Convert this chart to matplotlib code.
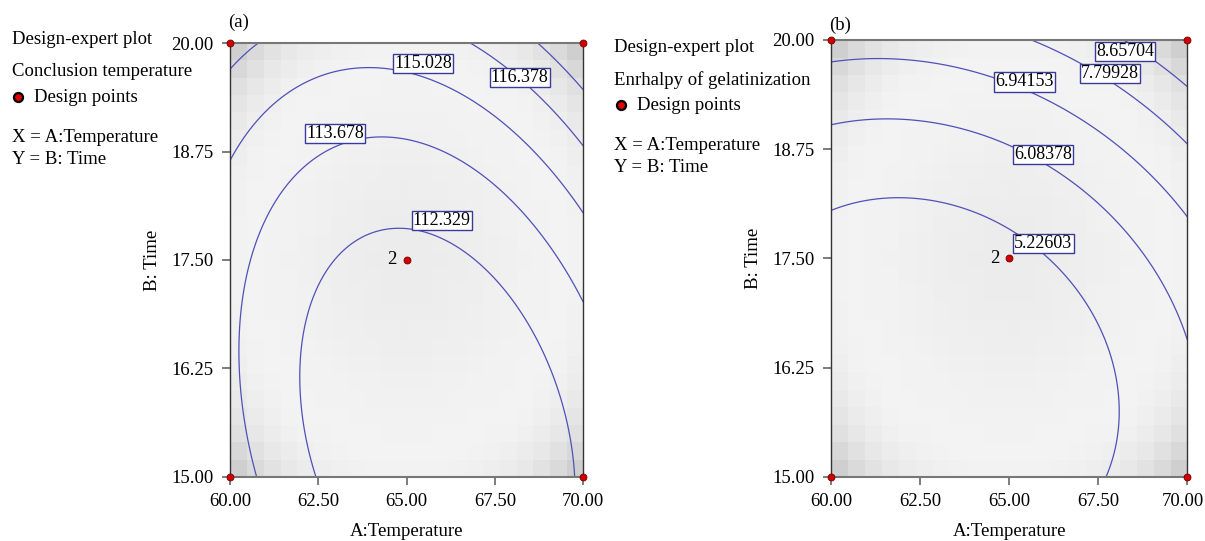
import numpy as np
import matplotlib
matplotlib.use("Agg")
import matplotlib.pyplot as plt
from matplotlib.transforms import ScaledTranslation

plt.rcParams['font.family'] = ['Liberation Serif', 'DejaVu Serif']

# ---- data ----
temp_ticks = [60.00, 62.50, 65.00, 67.50, 70.00]
time_ticks = [15.00, 16.25, 17.50, 18.75, 20.00]
design_temp = [60, 60, 70, 70, 65]
design_time = [15, 20, 15, 20, 17.5]
center_label = '2'

# quadratic response-surface models in coded units
# X = (Temperature - 65) / 5, Y = (Time - 17.5) / 2.5
# terms: [intercept, X, Y, XY, X^2, Y^2]
coef_conclusion = [111.975, 0.047, 2.229, 1.023, 2.232, 1.492]
coef_enthalpy = [5.0069, 0.8328, 1.4760, 0.2602, 0.7290, 1.1675]

levels_a = [112.329, 113.678, 115.028, 116.378, 117.727]
labels_a = [112.329, 113.678, 115.028, 116.378]
label_temp_a = [65.99, 62.97, 65.47, 68.2]
label_time_a = [17.96, 18.96, 19.77, 19.61]

levels_b = [5.22603, 6.08378, 6.94153, 7.79928, 8.65704]
labels_b = [5.22603, 6.08378, 6.94153, 7.79928, 8.65704]
label_temp_b = [65.96, 65.96, 65.44, 67.83, 68.25]
label_time_b = [17.67, 18.69, 19.52, 19.62, 19.87]

W, H = 1205, 541
fig = plt.figure(figsize=(W / 100, H / 100), dpi=100)
ax_a = fig.add_axes([230 / W, 1 - 476.7 / H, 353.3 / W, 433.4 / H])
ax_b = fig.add_axes([831 / W, 1 - 476.7 / H, 356.3 / W, 436.7 / H])

line_col = '#5050b8'
FS = 13.5


def panel(ax, c, levels, labels, lx, ly, tag, tag_xy):
    t = np.linspace(60, 70, 301)
    s = np.linspace(15, 20, 301)
    T, S = np.meshgrid(t, s)
    X = (T - 65) / 5
    Y = (S - 17.5) / 2.5
    Z = c[0] + c[1] * X + c[2] * Y + c[3] * X * Y + c[4] * X ** 2 + c[5] * Y ** 2
    # blocky grey background shading
    gx = np.linspace(-1, 1, 21)
    gy = np.linspace(-1, 1, 25)
    GX, GY = np.meshgrid(gx, gy)
    r2 = GX ** 2 + GY ** 2
    d = np.clip(r2 - 0.85, -1, 2)
    shade = 0.95 - 0.075 * d ** 2 * np.where(r2 > 0.85, 1.4, 0.5)
    ax.imshow(shade, extent=[60, 70, 15, 20], origin='lower', cmap='gray',
              vmin=0, vmax=1, interpolation='nearest', aspect='auto', zorder=0)
    ax.contour(T, S, Z, levels=levels, colors=line_col, linewidths=0.9, zorder=2)
    for i, (lv, x, y) in enumerate(zip(labels, lx, ly)):
        ax.text(x, y, f'{lv:g}', ha='center', va='center', fontsize=13, zorder=4 + 0.1 * i,
                bbox=dict(boxstyle='square,pad=0.06', fc='white', ec='#3a3a9a', lw=1.0))
    ax.plot(design_temp, design_time, 'o', ms=5, mfc='#d00000', mec='#700000',
            mew=0.6, clip_on=False, zorder=6)
    ax.text(64.72, 17.5, center_label, ha='right', va='center', fontsize=FS)
    ax.set_xlim(60, 70)
    ax.set_ylim(15, 20)
    ax.set_xticks(temp_ticks)
    ax.set_xticklabels([f'{v:.2f}' for v in temp_ticks])
    ax.set_yticks(time_ticks)
    ax.set_yticklabels([f'{v:.2f}' for v in time_ticks])
    ax.tick_params(direction='out', length=6, width=1.2, color='#666666',
                   labelsize=FS)
    ax.tick_params(axis='x', pad=6)
    ax.tick_params(axis='y', pad=6)
    for name, sp in ax.spines.items():
        sp.set_color('#333333' if name in ('left', 'right') else '#777777')
        sp.set_linewidth(1.0 if name in ('left', 'right') else 1.5)
    ax.set_xlabel('A:Temperature', fontsize=FS, labelpad=9)
    ax.set_ylabel('B: Time', fontsize=FS, labelpad=7)
    fig.text(tag_xy[0] / W, 1 - tag_xy[1] / H, tag, ha='left', va='center', fontsize=FS)
    return ax


panel(ax_a, coef_conclusion, levels_a, labels_a, label_temp_a, label_time_a,
      '(a)', (228, 22))
panel(ax_b, coef_enthalpy, levels_b, labels_b, label_temp_b, label_time_b,
      '(b)', (829, 25))

# keep the last x tick label of panel (b) inside the canvas
last = ax_b.get_xticklabels()[-1]
last.set_transform(last.get_transform() + ScaledTranslation(-3 / 72, 0, fig.dpi_scale_trans))


def side(x0, ys, dot_x, title):
    fig.text(x0 / W, 1 - ys[0] / H, 'Design-expert plot', fontsize=FS, va='center')
    fig.text(x0 / W, 1 - ys[1] / H, title, fontsize=FS, va='center')
    fig.text((dot_x + 16) / W, 1 - ys[2] / H, 'Design points', fontsize=FS, va='center')
    fig.lines.append(plt.Line2D([dot_x / W], [1 - ys[2] / H], marker='o', ms=6.5,
                                mfc='#e00000', mec='black', mew=1.6,
                                transform=fig.transFigure))
    fig.text(x0 / W, 1 - ys[3] / H, 'X = A:Temperature', fontsize=FS, va='center')
    fig.text(x0 / W, 1 - ys[4] / H, 'Y = B: Time', fontsize=FS, va='center')


side(12, [40, 71, 97, 137, 160], 18, 'Conclusion temperature')
side(614, [47, 80, 105, 145, 168], 621, 'Enrhalpy of gelatinization')

fig.savefig('out.png', dpi=100)
